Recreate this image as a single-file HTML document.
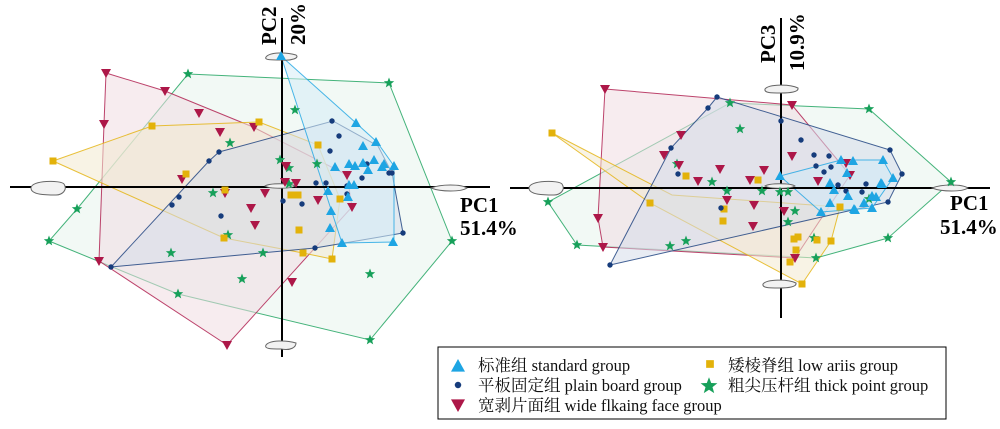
<!DOCTYPE html>
<html><head><meta charset="utf-8"><style>
html,body{margin:0;padding:0;background:#fff;width:1000px;height:429px;overflow:hidden}
svg text{font-family:"Liberation Serif","Noto Serif CJK SC",serif}
</style></head><body>
<svg id="s" width="1000" height="429" xmlns="http://www.w3.org/2000/svg">
<g id="hulls"></g>
<g id="axes" stroke="#000" stroke-width="2">
<line x1="10" y1="187" x2="490" y2="187"/><line x1="282" y1="18" x2="282" y2="357"/>
<line x1="510" y1="188" x2="990" y2="188"/><line x1="781" y1="18" x2="781" y2="318"/>
</g>
<g fill="#f2f2f2" stroke="#666" stroke-width="1">
<path d="M31,188 c0,-8 30,-8 33,-4 c4,6 -2,11 -8,11 c-10,0 -25,0 -25,-7z"/>
<path d="M431,188 c10,-4 30,-4 36,0 c-6,4 -26,4 -36,0z"/>
<path d="M266,57 c4,-5 20,-5 30,-2 c4,3 -5,6 -15,5 c-10,0 -17,0 -15,-3z"/>
<path d="M266,345 c4,-5 20,-5 30,-2 c0,4 -5,8 -15,6 c-10,0 -17,0 -15,-4z"/>
<path d="M265,186 c5,-3 25,-3 30,0 c-5,3 -25,3 -30,0z"/>
<path d="M529,188 c0,-8 30,-8 33,-4 c4,6 -2,11 -8,11 c-10,0 -25,0 -25,-7z"/>
<path d="M932,188 c10,-4 30,-4 36,0 c-6,4 -26,4 -36,0z"/>
<path d="M765,89 c4,-5 25,-5 33,-1 c1,4 -8,5 -17,5 c-10,0 -17,0 -16,-4z"/>
<path d="M763,284 c4,-5 25,-5 33,-1 c1,4 -8,5 -17,5 c-10,0 -17,0 -16,-4z"/>
<path d="M765,186 c5,-3 25,-3 30,0 c-5,3 -25,3 -30,0z"/>
</g>
<g id="pts"></g>
<g font-weight="bold" font-size="21" fill="#000">
<text transform="translate(276,45) rotate(-90)">PC2</text>
<text transform="translate(305,45) rotate(-90)">20%</text>
<text transform="translate(775,63) rotate(-90)">PC3</text>
<text transform="translate(804,71) rotate(-90)">10.9%</text>
<text x="460" y="212">PC1</text><text x="460" y="235">51.4%</text>
<text x="950" y="210">PC1</text><text x="940" y="234">51.4%</text>
</g>
<rect x="438" y="347" width="508" height="72" fill="#fff" stroke="#000" stroke-width="1"/>
<g id="leg"></g>
<g font-size="16.5" fill="#111">
<text x="478" y="371">标准组 standard group</text>
<text x="478" y="391">平板固定组 plain board group</text>
<text x="478" y="411">宽剥片面组 wide flkaing face group</text>
<text x="728" y="371">矮棱脊组 low ariis group</text>
<text x="728" y="391">粗尖压杆组 thick point group</text>
</g>
</svg>
<script>
const C={b:"#1ea5e3",n:"#163c7c",r:"#ad1748",y:"#e3b20a",g:"#17a05a"};
const H=[
["g","188,74 389,83 452,241 370,340 178,294 49,241 77,209","#e8f4ec"],
["r","106,73 165,91 253,127 347,175 352,207 227,345 99,261 104,124","#f0dde2"],
["y","53,161 152,126 259,122 318,145 340,199 332,259 303,253 224,238","#f3ead0"],
["n","333,121 378,146 392,173 403,233 315,248 111,267 209,161 219,152","#d6dcea"],
["b","281,56 356,123 377,142 394,166 394,242 342,243","#d6ecf6"],
["g","730,103 869,109 951,182 888,238 816,258 577,245 548,202","#e8f4ec"],
["r","605,89 792,105 850,175 795,258 603,247 598,218","#f0dde2"],
["y","552,133 672,195 840,207 831,241 802,284 650,203","#f3ead0"],
["n","717,97 890,150 902,174 888,202 610,265 671,148 708,108","#d6dcea"],
["b","780,176 841,160 883,160 893,178 872,208 821,212","#cfe9f5"]];
let h="";for(const [k,p,f] of H)h+=`<polygon points="${p}" fill="${f}" fill-opacity="0.55" stroke="${C[k]}" stroke-opacity="0.8" stroke-width="1"/>`;
document.getElementById("hulls").innerHTML=h;
const P={
b:[[281,56],[356,123],[363,146],[376,142],[363,163],[349,164],[374,160],[384,164],[335,167],[382,167],[394,166],[368,170],[355,166],[349,185],[354,185],[328,191],[348,197],[331,211],[330,228],[342,243],[393,242],
[780,176],[841,160],[853,161],[883,160],[847,173],[893,178],[881,183],[830,183],[834,190],[848,196],[882,184],[872,196],[876,197],[864,203],[830,203],[855,210],[872,208],[821,212],[854,209]],
n:[[332,121],[339,136],[330,151],[367,164],[392,173],[389,173],[362,178],[316,183],[326,183],[347,186],[347,194],[179,197],[172,205],[221,216],[283,201],[302,204],[219,152],[209,161],[403,233],[315,248],[111,267],
[717,97],[708,108],[671,148],[781,121],[801,140],[814,155],[829,156],[816,166],[831,167],[824,172],[678,174],[890,150],[902,174],[838,185],[866,184],[846,191],[862,192],[888,202],[721,208],[610,265]],
r:[[106,73],[165,91],[199,113],[254,127],[220,132],[182,179],[225,193],[265,193],[296,183],[285,182],[251,208],[255,225],[318,200],[352,207],[347,175],[99,261],[104,124],[292,282],[227,345],[286,166],
[605,89],[792,105],[681,135],[664,155],[792,156],[679,165],[720,169],[764,170],[846,163],[850,175],[818,181],[750,180],[698,181],[727,200],[754,205],[598,218],[784,211],[753,226],[603,247],[795,258]],
y:[[53,161],[152,126],[259,122],[318,145],[186,174],[225,190],[291,195],[298,195],[340,199],[299,230],[303,253],[332,259],[224,238],
[552,133],[686,176],[758,180],[650,203],[724,209],[723,221],[794,239],[798,237],[817,240],[831,241],[796,250],[790,262],[802,284],[840,207]],
g:[[188,74],[389,83],[295,110],[230,143],[280,160],[317,164],[289,168],[289,184],[213,193],[77,209],[49,241],[228,235],[171,253],[263,253],[242,279],[178,294],[370,274],[370,340],[452,241],
[730,103],[869,109],[740,129],[677,164],[712,182],[727,191],[762,191],[780,192],[788,192],[869,199],[795,211],[788,222],[816,258],[814,238],[888,238],[577,245],[670,246],[686,241],[548,202],[951,182]]};
function mk(k,x,y,s){s=s||1;const c=C[k];
if(k=="b")return `<polygon points="${x},${y-5*s} ${x+5*s},${y+4*s} ${x-5*s},${y+4*s}" fill="${c}"/>`;
if(k=="n")return `<circle cx="${x}" cy="${y}" r="${2.7*s}" fill="${c}"/>`;
if(k=="r")return `<polygon points="${x-5*s},${y-4*s} ${x+5*s},${y-4*s} ${x},${y+5*s}" fill="${c}"/>`;
if(k=="y")return `<rect x="${x-3.5*s}" y="${y-3.5*s}" width="${7*s}" height="${7*s}" fill="${c}"/>`;
let p=[];for(let i=0;i<10;i++){const a=-Math.PI/2+i*Math.PI/5,r=(i%2?2.3:5.5)*s;p.push((x+r*Math.cos(a)).toFixed(1)+","+(y+r*Math.sin(a)).toFixed(1));}
return `<polygon points="${p.join(" ")}" fill="${c}"/>`;}
let o="";for(const k of ["g","r","y","n","b"])for(const [x,y] of P[k])o+=mk(k,x,y);
document.getElementById("pts").innerHTML=o;
document.getElementById("leg").innerHTML=mk("b",458,366,1.4)+mk("n",458,385,1.2)+mk("r",458,405,1.4)+mk("y",710,364,1.1)+mk("g",709,386,1.6);
</script>
</body></html>
